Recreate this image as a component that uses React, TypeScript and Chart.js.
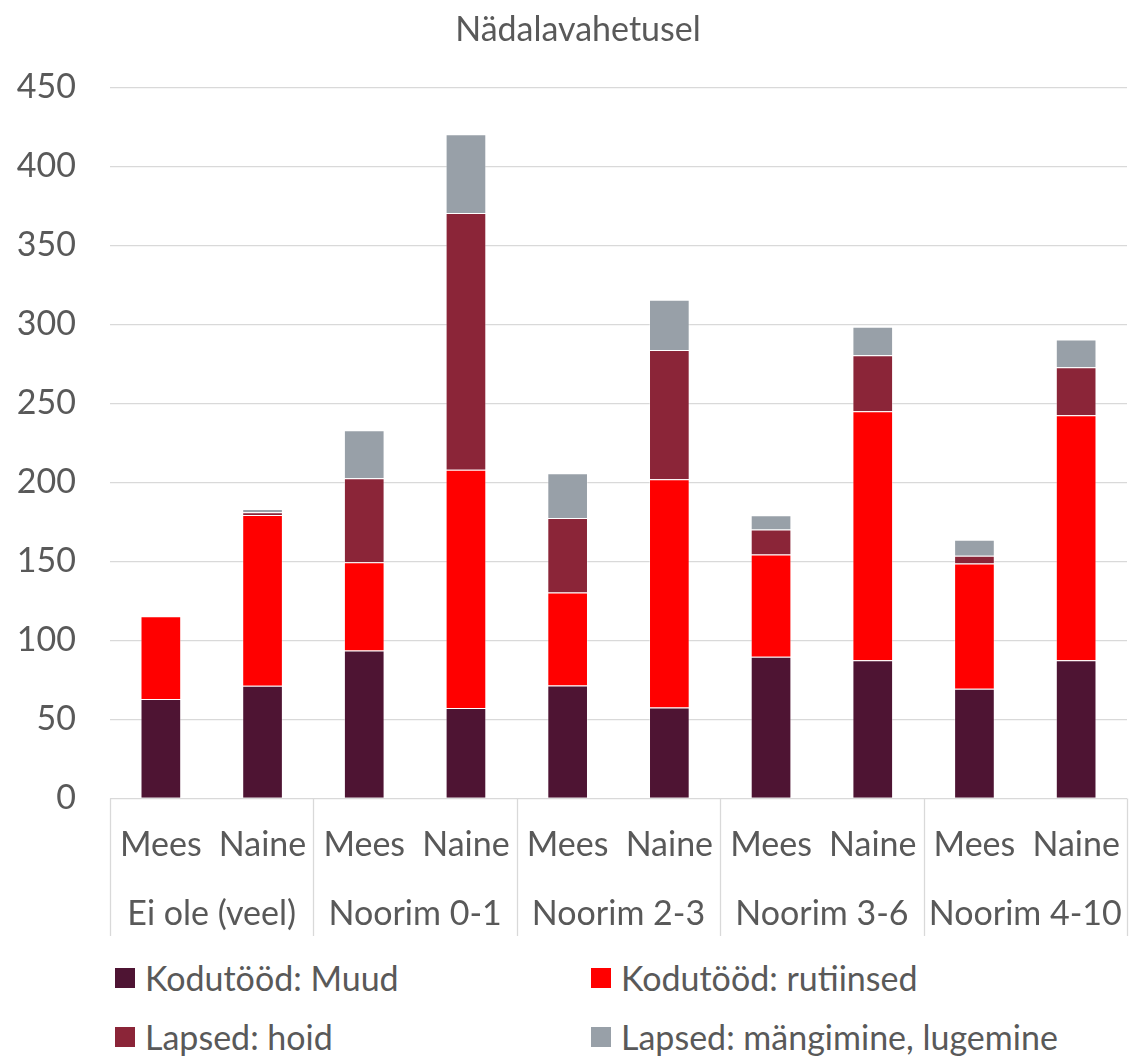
import React, { useEffect, useRef } from "react";
import { Chart, registerables } from "chart.js";

Chart.register(...registerables);

const chartTitle = "Nädalavahetusel";
const groups = ["Ei ole (veel)", "Noorim 0-1", "Noorim 2-3", "Noorim 3-6", "Noorim 4-10"];
const genders = ["Mees", "Naine"];
const categories = groups.flatMap(() => genders);

const yMin = 0;
const yMax = 450;
const yStep = 50;

const seriesNames = [
  "Kodutööd: Muud",
  "Kodutööd: rutiinsed",
  "Lapsed: hoid",
  "Lapsed: mängimine, lugemine",
];
const muud = [63.0, 71.4, 93.7, 57.3, 71.5, 57.6, 89.7, 87.5, 69.4, 87.5];
const rutiinsed = [52.3, 108.0, 55.8, 150.7, 58.9, 144.5, 64.7, 157.6, 79.3, 155.1];
const hoid = [0, 1.7, 53.2, 162.6, 47.2, 81.7, 15.9, 35.5, 4.9, 30.4];
const mangimine = [0, 2.1, 30.3, 49.8, 28.3, 31.8, 9.0, 17.9, 10.1, 17.5];
const seriesValues = [muud, rutiinsed, hoid, mangimine];
const seriesColors = ["#4E1433", "#FF0000", "#8B2538", "#98A0A8"];

const FONT = "Lato";
const TEXT = "#595959";
const GRID = "#d9d9d9";
const FS = 34;

const groupLines = {
  id: "groupLines",
  afterDraw(chart: any) {
    const x = chart.scales.x;
    const x2 = chart.scales.x2;
    const ctx = chart.ctx;
    ctx.save();
    ctx.strokeStyle = GRID;
    ctx.lineWidth = 1.3;
    for (let i = 0; i <= groups.length; i++) {
      const px = Math.round(x.getPixelForValue(i * genders.length - 0.5)) + 0.5;
      ctx.beginPath();
      ctx.moveTo(px, chart.chartArea.bottom);
      ctx.lineTo(px, x2.bottom);
      ctx.stroke();
    }
    ctx.restore();
  },
};

export default function App() {
  const ref = useRef<HTMLCanvasElement | null>(null);

  useEffect(() => {
    if (!ref.current) return;
    const chart = new Chart(ref.current, {
      type: "bar",
      data: {
        labels: categories,
        datasets: seriesNames.map((name, i) => ({
          label: name,
          data: seriesValues[i],
          backgroundColor: seriesColors[i],
          borderColor: "rgba(255,255,255,0.35)",
          borderWidth: 1,
          barPercentage: 0.4,
          categoryPercentage: 1,
          xAxisID: "x",
        })),
      },
      options: {
        responsive: false,
        animation: false,
        layout: { padding: { left: 0, right: 5, top: 87.5, bottom: 9 } },
        font: { family: FONT, size: FS },
        plugins: {
          legend: { display: false },
          tooltip: { enabled: false },
          title: { display: false },
        },
        scales: {
          y: {
            stacked: true,
            min: yMin,
            max: yMax,
            ticks: {
              stepSize: yStep,
              color: TEXT,
              font: { family: FONT, size: FS },
              padding: 34,
            },
            grid: { color: GRID, lineWidth: 1.3, drawTicks: false },
            border: { display: false },
            afterFit: (s: any) => {
              s.width = 110;
              s.paddingTop = 0;
              s.paddingBottom = 0;
            },
          },
          x: {
            stacked: true,
            position: "bottom",
            weight: 0,
            grid: { display: false, drawTicks: false },
            border: { display: false },
            ticks: {
              color: TEXT,
              font: { family: FONT, size: FS },
              autoSkip: false,
              maxRotation: 0,
              padding: 26,
            },
            afterFit: (s: any) => {
              s.height = 68;
              s.paddingLeft = 0;
              s.paddingRight = 0;
            },
          },
          x2: {
            type: "category",
            labels: groups,
            position: "bottom",
            weight: 1,
            offset: true,
            grid: { display: false, drawTicks: false },
            border: { display: false },
            ticks: {
              color: TEXT,
              font: { family: FONT, size: FS },
              autoSkip: false,
              maxRotation: 0,
              padding: 27,
            },
            afterFit: (s: any) => {
              s.height = 69.5;
              s.paddingLeft = 0;
              s.paddingRight = 0;
            },
          },
        },
      },
      plugins: [groupLines],
    } as any);
    return () => chart.destroy();
  }, []);

  const legendPos = [
    { left: 115, top: 978 },
    { left: 591, top: 978 },
    { left: 115, top: 1037 },
    { left: 591, top: 1037 },
  ];

  return (
    <div
      style={{
        position: "absolute",
        left: 0,
        top: 0,
        width: 1132,
        height: 1057,
        background: "#fff",
        overflow: "hidden",
        fontFamily: FONT,
      }}
    >
      <div
        style={{
          position: "absolute",
          left: 0,
          top: 6,
          width: 1156,
          height: 44,
          lineHeight: "44px",
          textAlign: "center",
          fontSize: FS,
          color: TEXT,
          whiteSpace: "nowrap",
        }}
      >
        {chartTitle}
      </div>
      <canvas ref={ref} width={1132} height={945} style={{ display: "block" }} />
      {seriesNames.map((name, i) => (
        <div
          key={name}
          style={{
            position: "absolute",
            left: legendPos[i].left,
            top: legendPos[i].top - 22,
            height: 44,
            display: "flex",
            alignItems: "center",
            whiteSpace: "nowrap",
          }}
        >
          <span
            style={{
              display: "inline-block",
              width: 20,
              height: 20,
              background: seriesColors[i],
              marginRight: 10,
            }}
          />
          <span style={{ fontSize: FS, color: TEXT, lineHeight: "44px" }}>{name}</span>
        </div>
      ))}
    </div>
  );
}
